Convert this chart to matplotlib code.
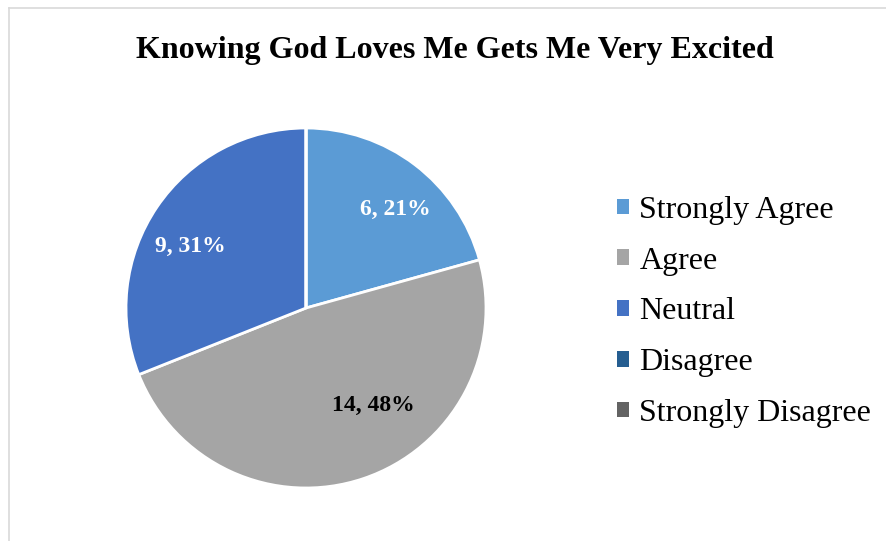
import math
import matplotlib
matplotlib.use("Agg")
import matplotlib.pyplot as plt
from matplotlib.lines import Line2D
from matplotlib.patches import Patch

categories = ["Strongly Agree", "Agree", "Neutral", "Disagree", "Strongly Disagree"]
values = [6, 14, 9, 0, 0]
colors = ["#5B9BD5", "#A5A5A5", "#4472C4", "#255E91", "#636363"]
label_colors = ["white", "black", "white", "white", "white"]
title = "Knowing God Loves Me Gets Me Very Excited"

# label placement tweaks (style): radial distance and angular shift from wedge middle
label_radius = [0.74, 0.655, 0.73, 0.7, 0.7]
label_shift_deg = [-5, 16, 6, 0, 0]

plt.rcParams['font.family'] = ['Liberation Serif', 'DejaVu Serif']

W, H = 886, 541
fig = plt.figure(figsize=(W / 100, H / 100), dpi=100)
fig.patch.set_facecolor("white")

# light border (left and top)
fig.add_artist(Line2D([8.5 / W, 8.5 / W], [0, 1 - 7.5 / H], transform=fig.transFigure,
                      color="#D9D9D9", lw=1.2))
fig.add_artist(Line2D([8.5 / W, 1], [1 - 7.5 / H, 1 - 7.5 / H], transform=fig.transFigure,
                      color="#D9D9D9", lw=1.2))

fig.text(455 / W, 1 - 50 / H, title, ha="center", va="center",
         fontsize=23, fontweight="bold", color="black")

cx, cy, r = 306, 308, 180
ax = fig.add_axes([(cx - r) / W, (H - cy - r) / H, 2 * r / W, 2 * r / H])
total = sum(values)

wedges, texts = ax.pie(values, colors=colors, startangle=90, counterclock=False,
                       wedgeprops=dict(edgecolor="white", linewidth=2, clip_on=False),
                       radius=1.0)
for w, v, c, rad, sh in zip(wedges, values, label_colors, label_radius, label_shift_deg):
    if v == 0:
        continue
    mid = math.radians((w.theta1 + w.theta2) / 2 + sh)
    pct = v / total * 100
    ax.text(rad * math.cos(mid), rad * math.sin(mid), f"{v}, {int(round(pct))}%",
            ha="center", va="center", color=c, fontsize=17, fontweight="bold")
ax.set_xlim(-1, 1)
ax.set_ylim(-1, 1)
ax.set_aspect("equal")
ax.axis("off")

handles = [Patch(facecolor=c, edgecolor="none") for c in colors]
leg = fig.legend(handles, categories, loc="upper left",
                 bbox_to_anchor=(617 / W, 1 - 196 / H), frameon=False,
                 fontsize=23, handlelength=0.38, handleheight=0.38,
                 handletextpad=0.32, labelspacing=0.68, borderaxespad=0, borderpad=0)

fig.savefig("out.png", dpi=100)
